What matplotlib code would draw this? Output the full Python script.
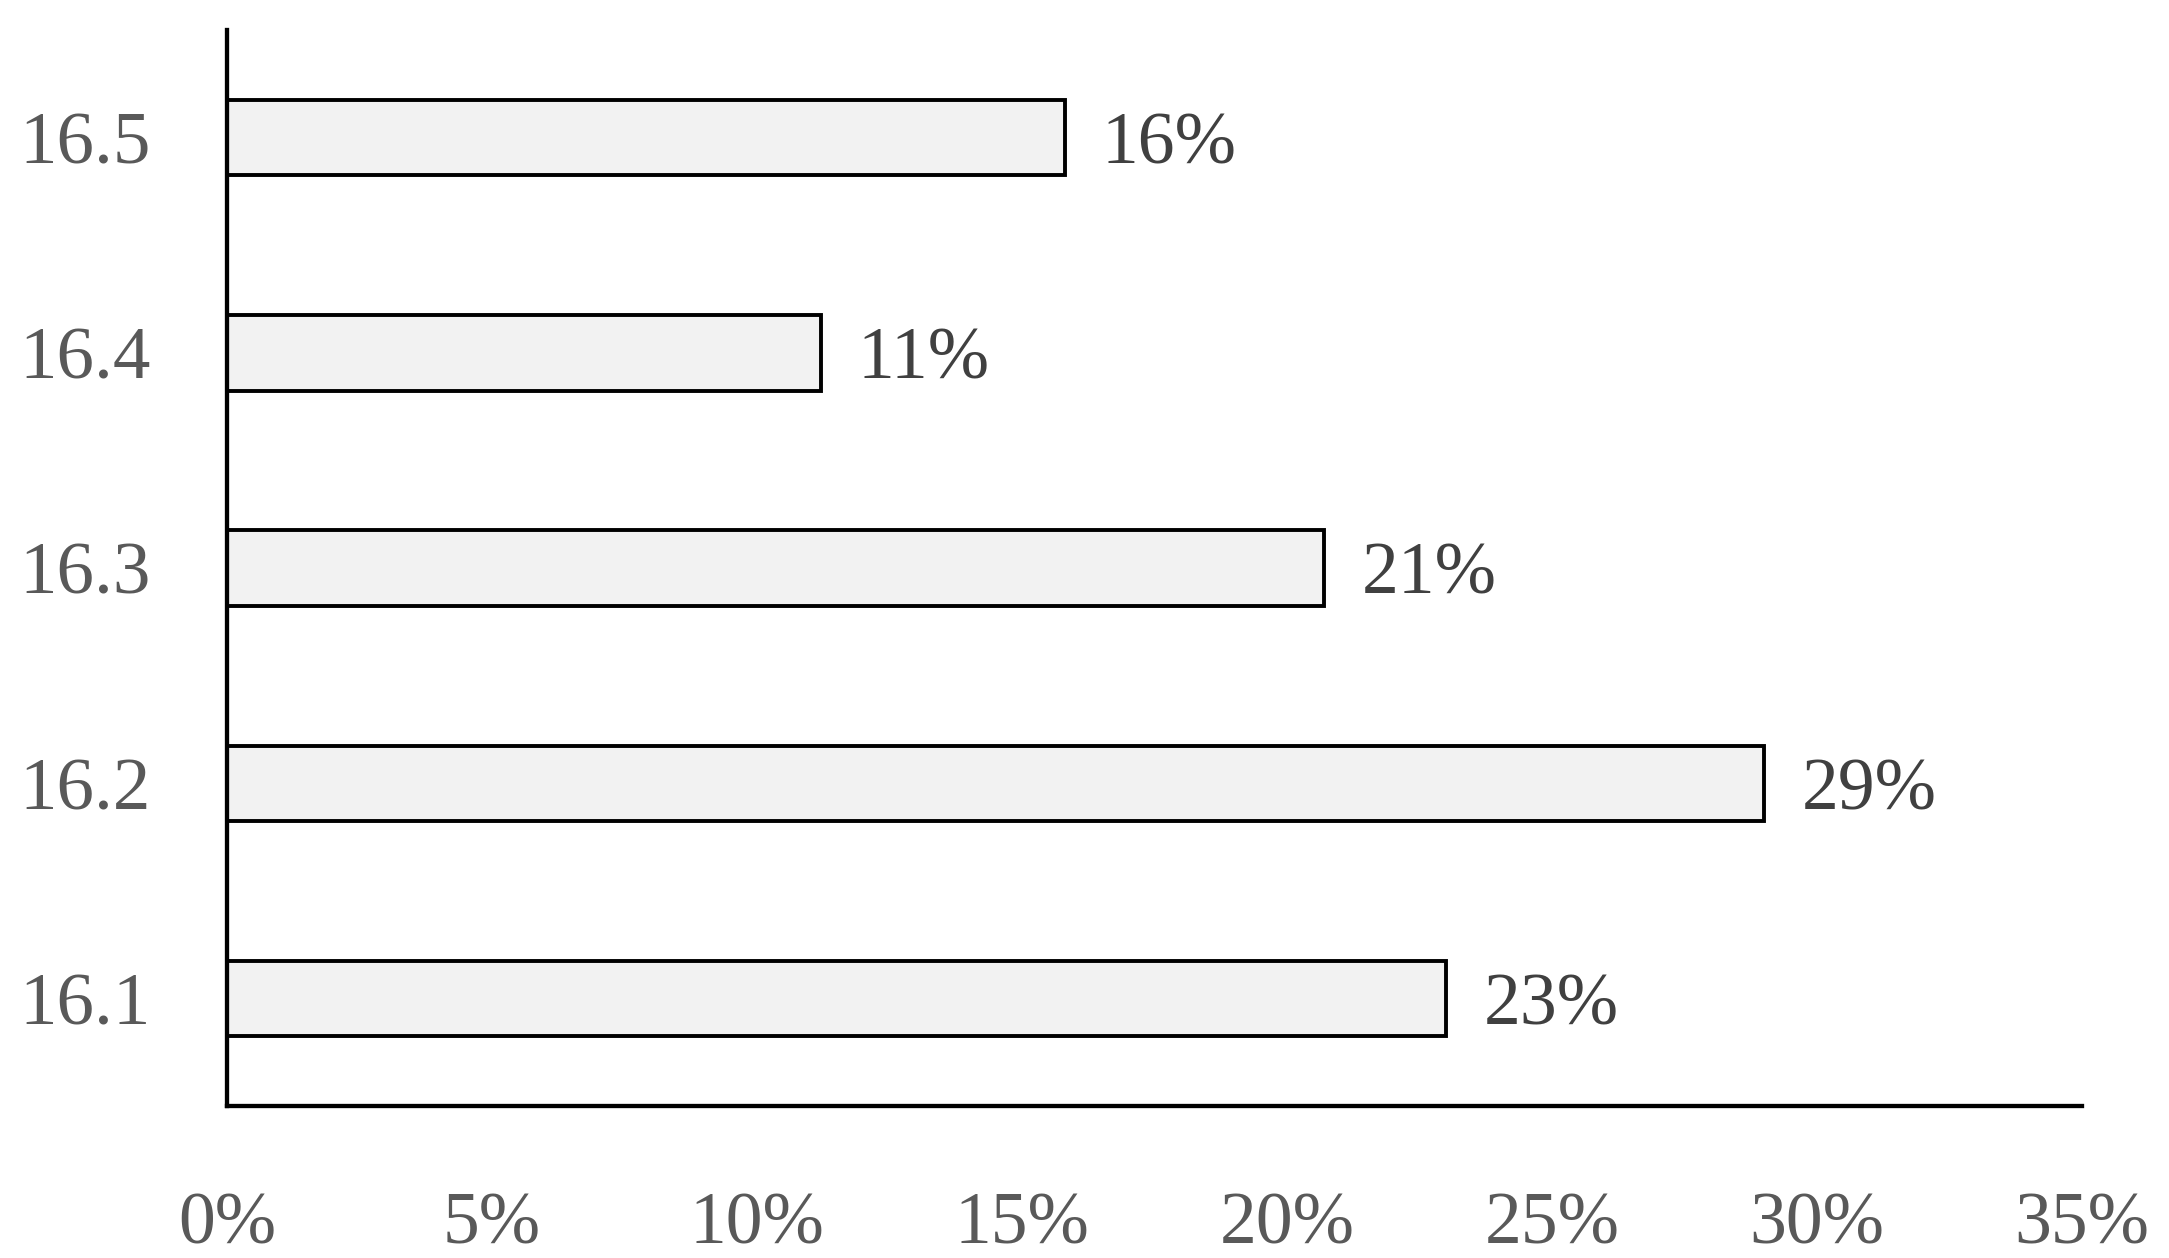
import numpy as np
import matplotlib
matplotlib.use("Agg")
import matplotlib.pyplot as plt
from matplotlib.ticker import PercentFormatter

# Data
categories = ["16.1", "16.2", "16.3", "16.4", "16.5"]
values = [0.23, 0.29, 0.207, 0.112, 0.158]
labels = ["23%", "29%", "21%", "11%", "16%"]

plt.rcParams['font.family'] = ['Liberation Serif', 'DejaVu Serif']

fig = plt.figure(figsize=(21.69, 12.58), dpi=100)
ax = fig.add_axes([0.1047, 0.1208, 0.8553, 0.8552])

y = np.arange(len(categories))
bars = ax.barh(y, values, height=0.35, color="#f2f2f2", edgecolor="black", linewidth=2.8)

for bar, lab in zip(bars, labels):
    ax.text(bar.get_width() + 0.007, bar.get_y() + bar.get_height() / 2, lab,
            va="center_baseline", ha="left", fontsize=53, color="#404040")

ax.set_xlim(0, 0.35)
ax.set_ylim(-0.5, 4.5)
ax.set_xticks(np.arange(0, 0.351, 0.05))
ax.xaxis.set_major_formatter(PercentFormatter(1.0, decimals=0))
ax.set_yticks(y)
ax.set_yticklabels(categories)

for s in ["top", "right"]:
    ax.spines[s].set_visible(False)
for s in ["left", "bottom"]:
    ax.spines[s].set_linewidth(3.1)

ax.tick_params(axis="x", length=0, pad=62, labelsize=53, labelcolor="#595959")
ax.tick_params(axis="y", length=0, pad=55, labelsize=54, labelcolor="#595959")

fig.savefig("out.png", dpi=100)
